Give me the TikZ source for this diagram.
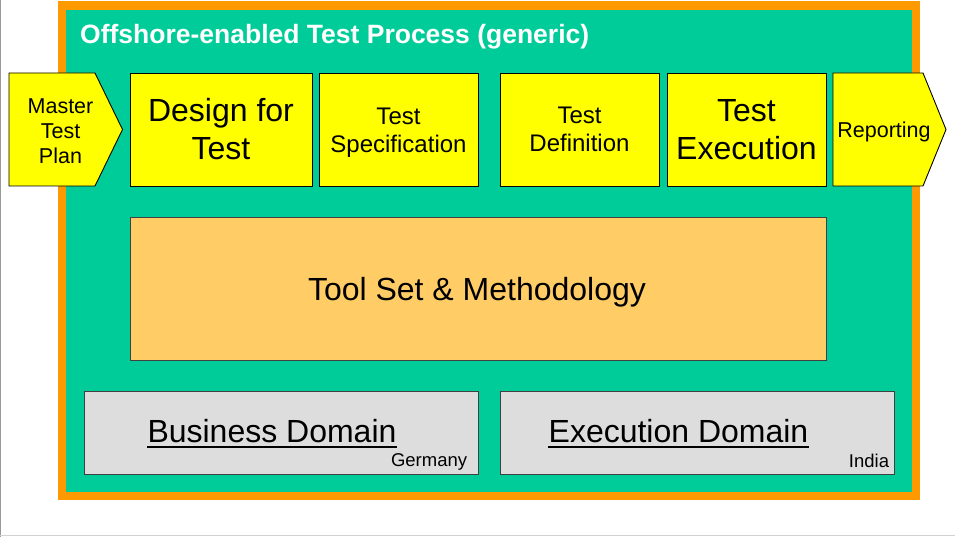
\documentclass[tikz,border=0pt]{standalone}
\usepackage{fontspec}
\setmainfont{Liberation Sans}
\definecolor{frameorange}{HTML}{FF9900}
\definecolor{processteal}{HTML}{00CC99}
\definecolor{stageyellow}{HTML}{FFFF00}
\definecolor{toolorange}{HTML}{FFCC66}
\definecolor{domaingray}{HTML}{DDDDDD}
\definecolor{edgegray}{HTML}{404040}
\begin{document}
\begin{tikzpicture}[x=1pt,y=-1pt,
  stagebox/.style={draw=black, fill=stageyellow, line width=0.9pt, minimum height=113pt, inner sep=0pt, align=center},
  chevron/.style={draw=black, fill=stageyellow, line width=0.9pt, line join=miter},
  bigtext/.style={font=\fontsize{32}{38}\selectfont},
  midtext/.style={font=\fontsize{24}{28.5}\selectfont},
  smalltext/.style={font=\fontsize{21.5}{25}\selectfont},
  domainbox/.style={draw=edgegray, fill=domaingray, line width=0.9pt, minimum width=394pt, minimum height=83pt, inner sep=0pt},
  domaintext/.style={font=\fontsize{32}{38}\selectfont, inner sep=0pt, anchor=base},
  countrytext/.style={font=\fontsize{18.5}{20}\selectfont, inner sep=0pt, anchor=base east},
  underbar/.style={line width=1.8pt}
]
\useasboundingbox (0,0) rectangle (955,537);
% page edges
\draw[gray!80, line width=1pt] (0.5,0) -- (0.5,537);
\draw[gray!35, line width=1pt] (0,535.7) -- (955,535.7);

% process frame
\fill[frameorange] (58,1) rectangle (920,500);
\fill[processteal] (66,10) rectangle (912,492);
\node[font=\fontsize{26.5}{30}\selectfont\bfseries, text=white, anchor=base west, inner sep=0pt] (title) at (80,44) {Offshore-enabled Test Process (generic)};

% stages
\draw[chevron] (9,73) -- (95,73) -- (122.5,129.5) -- (95,186) -- (9,186) -- cycle;
\node[smalltext, align=center] (mtp) at (60.5,131) {Master\\Test\\Plan};

\node[stagebox, bigtext, minimum width=182pt] (dft) at (221,129.5) {Design for\\Test};
\node[stagebox, midtext, minimum width=159pt] (spec) at (398.5,129.5) {};
\node[midtext, align=center, yshift=-3pt] (spectext) at (spec) {Test\\Specification};
\node[stagebox, midtext, minimum width=159pt] (defn) at (579.5,129.5) {Test\\Definition};
\node[stagebox, bigtext, minimum width=159pt] (exec) at (746.5,129.5) {Test\\Execution};

\draw[chevron] (833,73) -- (923,73) -- (946,129.5) -- (923,186) -- (833,186) -- cycle;
\node[smalltext, anchor=base, inner sep=0pt] (rep) at (884,137.5) {Reporting};

% tool set
\node[draw=edgegray, fill=toolorange, line width=0.9pt, minimum width=696pt, minimum height=143pt, inner sep=0pt] (tools) at (478,288.5) {};
\node[font=\fontsize{32}{38}\selectfont, anchor=base, inner sep=0pt] (toolstext) at (477,300) {Tool Set \& Methodology};

% domains
\node[domainbox] (bizbox) at (281,432.5) {};
\node[domaintext] (biz) at (272,442.3) {Business Domain};
\draw[underbar] ([yshift=-4.5pt]biz.base west) -- ([yshift=-4.5pt]biz.base east);
\node[countrytext] (ger) at (467.3,466) {Germany};

\node[domainbox] (exebox) at (697.5,432.5) {};
\node[domaintext] (exd) at (678.5,442.3) {Execution Domain};
\draw[underbar] ([yshift=-4.5pt]exd.base west) -- ([yshift=-4.5pt]exd.base east);
\node[countrytext] (ind) at (889.3,467.3) {India};
\end{tikzpicture}
\end{document}
